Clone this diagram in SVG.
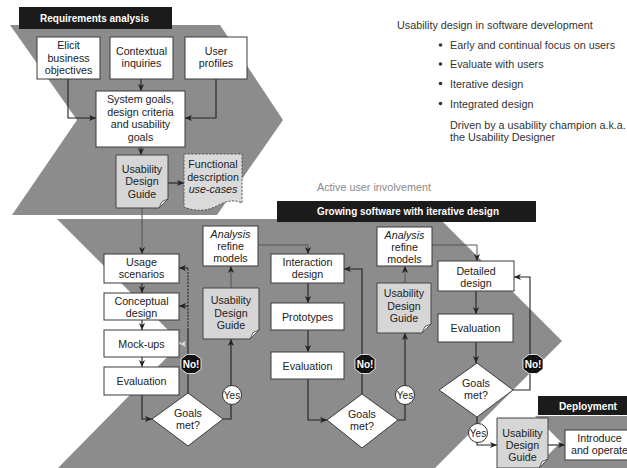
<svg xmlns="http://www.w3.org/2000/svg" width="627" height="468" viewBox="0 0 627 468">
<defs>
<marker id="ah" viewBox="0 0 8 8" refX="8" refY="4" markerWidth="7" markerHeight="7" markerUnits="userSpaceOnUse" orient="auto"><path d="M0,0.5 L8,4 L0,7.5 L2.2,4 Z" fill="#222"/></marker>
</defs>
<style>
.chev{fill:#8c8c8c}
.bar{fill:#1b1b1b}
.bt{font-family:"Liberation Sans",Arial,sans-serif;font-size:10px;font-weight:bold;fill:#fff}
.box{fill:#fff;stroke:#3a3a3a;stroke-width:1}
.udg{fill:#d6d6d6;stroke:#444;stroke-width:1}
.flap{fill:#eeeeee;stroke:#444;stroke-width:0.8}
.t{font-family:"Liberation Sans",Arial,sans-serif;font-size:10.7px;fill:#222;text-anchor:middle}
.i{font-style:italic}
.r{font-family:"Liberation Sans",Arial,sans-serif;font-size:10.8px;fill:#333}
.c{fill:none;stroke:#222;stroke-width:1.1}
.cl{fill:none;stroke:#555;stroke-width:1}
.no{fill:#111;stroke:#fff;stroke-width:0.8}
.nt{font-family:"Liberation Sans",Arial,sans-serif;font-size:10px;font-weight:bold;fill:#fff;text-anchor:middle}
.yes{fill:#fff;stroke:#333;stroke-width:1}
.yt{font-family:"Liberation Sans",Arial,sans-serif;font-size:10px;fill:#222;text-anchor:middle}
</style>

<!-- backgrounds -->
<g id="phases">
<polygon class="chev" points="10,25 220,25 283,120 217,215 12,215 77,120"/>
<polygon class="chev" points="57,219 440,219 562,341 435,468 58,468 181,343"/>
<polygon class="chev" points="535,416 627,416 627,468 535,468 561,442"/>
</g>

<g id="bar-requirements">
<rect class="bar" x="19" y="7" width="153" height="22"/>
<text class="bt" x="40" y="22" textLength="109" lengthAdjust="spacingAndGlyphs">Requirements analysis</text>
</g>
<g id="bar-growing">
<rect class="bar" x="277" y="201" width="259" height="21"/>
<text class="bt" x="317" y="215" textLength="182" lengthAdjust="spacingAndGlyphs">Growing software with iterative design</text>
</g>
<g id="bar-deployment">
<rect class="bar" x="538" y="396" width="89" height="19"/>
<text class="bt" x="559" y="410" textLength="58" lengthAdjust="spacingAndGlyphs">Deployment</text>
</g>

<g id="notes">
<text class="r" x="397" y="29">Usability design in software development</text>
<circle cx="440.5" cy="45" r="1.8" fill="#333"/>
<text class="r" x="450" y="49">Early and continual focus on users</text>
<circle cx="440.5" cy="64" r="1.8" fill="#333"/>
<text class="r" x="450" y="68">Evaluate with users</text>
<circle cx="440.5" cy="83.5" r="1.8" fill="#333"/>
<text class="r" x="450" y="87.5">Iterative design</text>
<circle cx="440.5" cy="103.5" r="1.8" fill="#333"/>
<text class="r" x="450" y="107.5">Integrated design</text>
<text class="r" x="450" y="129">Driven by a usability champion a.k.a.</text>
<text class="r" x="450" y="140.5">the Usability Designer</text>
<text class="r" x="317" y="191" style="fill:#8a8a8a">Active user involvement</text>
</g>

<!-- connectors -->
<g id="connectors">
<path class="c" d="M68,79 V118 H96" marker-end="url(#ah)"/>
<path class="c" d="M141,79 V91" marker-end="url(#ah)"/>
<path class="c" d="M216,79 V118 H185" marker-end="url(#ah)"/>
<path class="c" d="M141,147 V155" marker-end="url(#ah)"/>
<path class="c" d="M168,183 H184" marker-end="url(#ah)"/>
<path class="cl" d="M142,208 V254" marker-end="url(#ah)"/>
<path class="c" d="M142,283 V293" marker-end="url(#ah)"/>
<path class="c" d="M142,320 V330" marker-end="url(#ah)"/>
<path class="c" d="M142,357 V367" marker-end="url(#ah)"/>
<path class="c" d="M142,395 V419 H152" marker-end="url(#ah)"/>
<path class="c" d="M188,393 V330"/>
<path class="c" d="M188,330 V268" stroke-dasharray="2,1.3"/>
<path class="c" d="M188,268 H179" marker-end="url(#ah)"/>
<path class="c" d="M188,306 H179" marker-end="url(#ah)"/>
<path d="M180,344 L186,341 L184.5,344 L186,347 Z" fill="#dddddd"/>
<path class="c" d="M223,419 H231 V339" marker-end="url(#ah)"/>
<path class="cl" d="M231,288 V266" marker-end="url(#ah)"/>
<path class="cl" d="M258,245 H308 V254" marker-end="url(#ah)"/>
<path class="c" d="M308,283 V303" marker-end="url(#ah)"/>
<path class="c" d="M308,330 V352" marker-end="url(#ah)"/>
<path class="c" d="M308,379 V420 H327" marker-end="url(#ah)"/>
<path class="c" d="M362,394 V269 H344" marker-end="url(#ah)"/>
<path class="c" d="M398,420 H405 V333" marker-end="url(#ah)"/>
<path class="cl" d="M405,283 V266" marker-end="url(#ah)"/>
<path class="cl" d="M432,245 H477 V261" marker-end="url(#ah)"/>
<path class="c" d="M476,291 V314" marker-end="url(#ah)"/>
<path class="c" d="M476,342 V363" marker-end="url(#ah)"/>
<path class="c" d="M513,390 H530 V277 H514" marker-end="url(#ah)"/>
<path class="c" d="M477,417 V445 H497" marker-end="url(#ah)"/>
<path class="c" d="M548,445 H565" marker-end="url(#ah)"/>
</g>

<!-- requirements nodes -->
<g id="elicit">
<rect class="box" x="37" y="37" width="63" height="42"/>
<text class="t" x="68.5" y="49">Elicit</text>
<text class="t" x="68.5" y="61.5">business</text>
<text class="t" x="68.5" y="74">objectives</text>
</g>
<g id="contextual">
<rect class="box" x="110" y="37" width="63" height="42"/>
<text class="t" x="141.5" y="55">Contextual</text>
<text class="t" x="141.5" y="67">inquiries</text>
</g>
<g id="user-profiles">
<rect class="box" x="185" y="37" width="62" height="42"/>
<text class="t" x="216" y="55">User</text>
<text class="t" x="216" y="67">profiles</text>
</g>
<g id="system-goals">
<rect class="box" x="96" y="91" width="89" height="56"/>
<text class="t" x="140.5" y="103">System goals,</text>
<text class="t" x="140.5" y="115.5">design criteria</text>
<text class="t" x="140.5" y="128">and usability</text>
<text class="t" x="140.5" y="140.5">goals</text>
</g>
<g id="udg-1">
<path class="udg" d="M116,155 H168 V199 L159,208 H116 Z"/>
<path class="flap" d="M168,199 L159,208 L162,201.5 Z"/>
<text class="t" x="142" y="172.5">Usability</text>
<text class="t" x="142" y="185">Design</text>
<text class="t" x="142" y="197.5">Guide</text>
</g>
<g id="functional">
<path d="M184,154 H242 V203 C234,199 226,201 217,206 C207,211 196,212 184,207 Z" fill="#dadada" stroke="#555" stroke-width="1" stroke-dasharray="2.2,1.4"/>
<text class="t" x="213" y="168">Functional</text>
<text class="t" x="213" y="180.5">description</text>
<text class="t i" x="213" y="193">use-cases</text>
</g>

<!-- iteration 1 -->
<g id="usage">
<rect class="box" x="104" y="254" width="75" height="29"/>
<text class="t" x="141.5" y="266">Usage</text>
<text class="t" x="141.5" y="278">scenarios</text>
</g>
<g id="conceptual">
<rect class="box" x="104" y="293" width="75" height="27"/>
<text class="t" x="141.5" y="304.5">Conceptual</text>
<text class="t" x="141.5" y="316.5">design</text>
</g>
<g id="mockups">
<rect class="box" x="104" y="330" width="75" height="27"/>
<text class="t" x="141.5" y="347.5">Mock-ups</text>
</g>
<g id="evaluation-1">
<rect class="box" x="104" y="367" width="75" height="28"/>
<text class="t" x="141.5" y="385">Evaluation</text>
</g>
<g id="goals-1">
<polygon class="box" points="188,393 223,419 188,446 152,419"/>
<text class="t" x="188" y="417">Goals</text>
<text class="t" x="188" y="428.5">met?</text>
</g>
<g id="no-1">
<polygon class="no" points="187,354.5 195,354.5 201,359 201,369 195,373.5 187,373.5 181,369 181,359"/>
<text class="nt" x="191" y="367.5">No!</text>
</g>
<g id="yes-1">
<circle class="yes" cx="232" cy="395" r="9.5"/>
<text class="yt" x="232" y="398.5">Yes</text>
</g>
<g id="udg-2">
<path class="udg" d="M203,288 H259 V330 L250,339 H203 Z"/>
<path class="flap" d="M259,330 L250,339 L253,332.5 Z"/>
<text class="t" x="231" y="304">Usability</text>
<text class="t" x="231" y="316.5">Design</text>
<text class="t" x="231" y="329">Guide</text>
</g>
<g id="analysis-1">
<rect class="box" x="203" y="226" width="55" height="40"/>
<text class="t i" x="230.5" y="237.5">Analysis</text>
<text class="t" x="230.5" y="249.5">refine</text>
<text class="t" x="230.5" y="261.5">models</text>
</g>

<!-- iteration 2 -->
<g id="interaction">
<rect class="box" x="271" y="254" width="73" height="29"/>
<text class="t" x="307.5" y="266">Interaction</text>
<text class="t" x="307.5" y="278">design</text>
</g>
<g id="prototypes">
<rect class="box" x="271" y="303" width="73" height="27"/>
<text class="t" x="307.5" y="320.5">Prototypes</text>
</g>
<g id="evaluation-2">
<rect class="box" x="271" y="352" width="73" height="27"/>
<text class="t" x="307.5" y="369.5">Evaluation</text>
</g>
<g id="goals-2">
<polygon class="box" points="362,394 398,420 362,448 327,420"/>
<text class="t" x="362" y="418">Goals</text>
<text class="t" x="362" y="429.5">met?</text>
</g>
<g id="no-2">
<polygon class="no" points="361,354.5 369,354.5 375,359 375,369 369,373.5 361,373.5 355,369 355,359"/>
<text class="nt" x="365" y="367.5">No!</text>
</g>
<g id="yes-2">
<circle class="yes" cx="405" cy="395" r="9.5"/>
<text class="yt" x="405" y="398.5">Yes</text>
</g>
<g id="udg-3">
<path class="udg" d="M377,283 H431 V324 L422,333 H377 Z"/>
<path class="flap" d="M431,324 L422,333 L425,326.5 Z"/>
<text class="t" x="404" y="297">Usability</text>
<text class="t" x="404" y="309.5">Design</text>
<text class="t" x="404" y="322">Guide</text>
</g>
<g id="analysis-2">
<rect class="box" x="377" y="227" width="55" height="39"/>
<text class="t i" x="404.5" y="238.5">Analysis</text>
<text class="t" x="404.5" y="250.5">refine</text>
<text class="t" x="404.5" y="262.5">models</text>
</g>

<!-- iteration 3 -->
<g id="detailed">
<rect class="box" x="438" y="261" width="76" height="30"/>
<text class="t" x="476" y="275">Detailed</text>
<text class="t" x="476" y="287">design</text>
</g>
<g id="evaluation-3">
<rect class="box" x="438" y="314" width="75" height="28"/>
<text class="t" x="475.5" y="332">Evaluation</text>
</g>
<g id="goals-3">
<polygon class="box" points="477,363 513,390 477,417 439,390"/>
<text class="t" x="476" y="387">Goals</text>
<text class="t" x="476" y="398.5">met?</text>
</g>
<g id="no-3">
<polygon class="no" points="529,354.5 537,354.5 543,359 543,369 537,373.5 529,373.5 523,369 523,359"/>
<text class="nt" x="533" y="367.5">No!</text>
</g>
<g id="yes-3">
<circle class="yes" cx="478" cy="433" r="9.5"/>
<text class="yt" x="478" y="436.5">Yes</text>
</g>

<!-- deployment -->
<g id="udg-4">
<path class="udg" d="M497,418 H548 V459 L539,468 H497 Z"/>
<path class="flap" d="M548,459 L539,468 L542,461.5 Z"/>
<text class="t" x="522.5" y="436.5">Usability</text>
<text class="t" x="522.5" y="448.5">Design</text>
<text class="t" x="522.5" y="460.5">Guide</text>
</g>
<g id="introduce">
<rect class="box" x="565" y="430" width="70" height="30"/>
<text class="t" x="599.5" y="442">Introduce</text>
<text class="t" x="599.5" y="454">and operate</text>
</g>
</svg>
